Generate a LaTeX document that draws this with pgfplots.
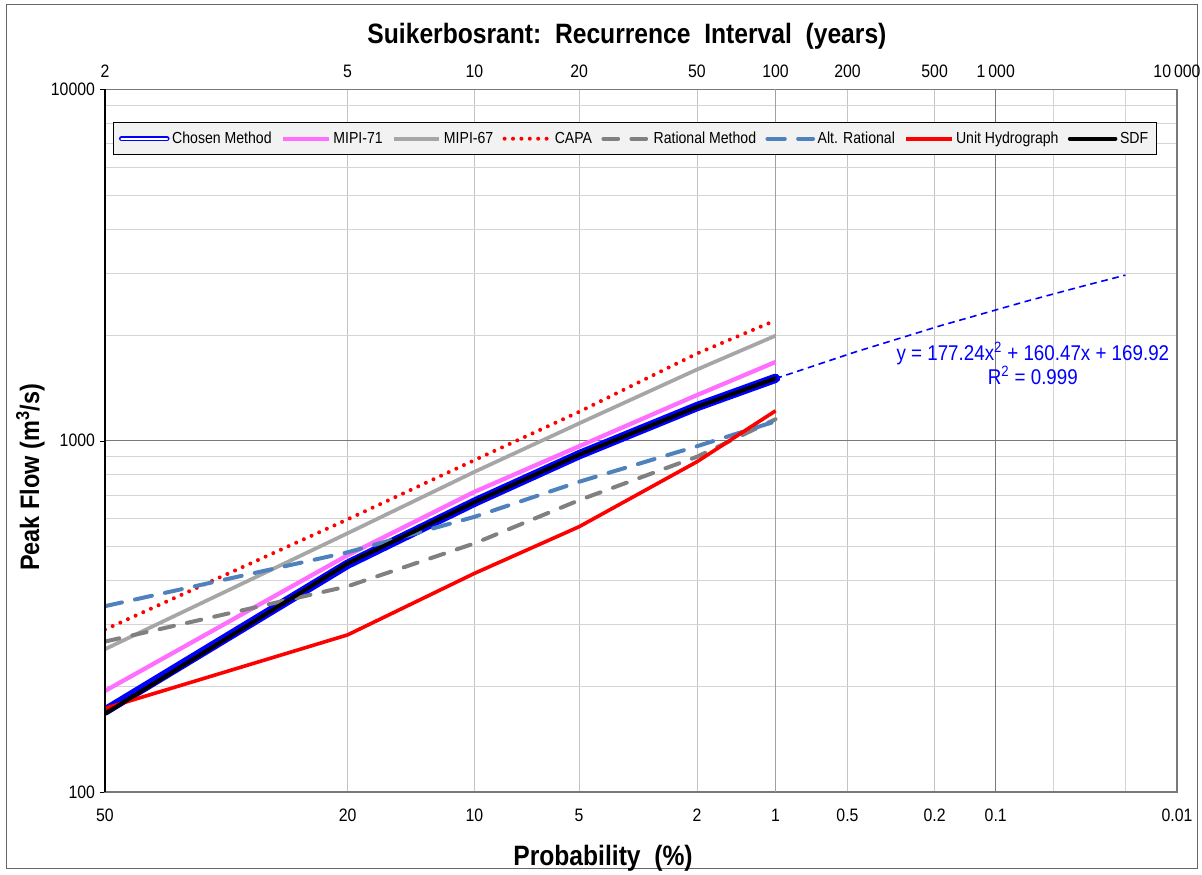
\documentclass[border=0pt]{standalone}
\usepackage{fontspec}
\setmainfont[FakeStretch=0.88]{Liberation Sans}
\usepackage{pgfplots}
\pgfplotsset{compat=1.18}
\usepackage{pgfplotstable}

\definecolor{chosenBlue}{RGB}{0,0,255}
\definecolor{mipiPink}{RGB}{255,110,255}
\definecolor{mipiGray}{RGB}{166,166,166}
\definecolor{capaRed}{RGB}{255,0,0}
\definecolor{ratGray}{RGB}{128,128,128}
\definecolor{altBlue}{RGB}{79,129,189}
\definecolor{gridLight}{RGB}{212,212,212}
\definecolor{gridV}{RGB}{196,196,196}
\definecolor{gridMid}{RGB}{160,160,160}
\definecolor{gridDark}{RGB}{120,120,120}
\definecolor{legendFill}{RGB}{242,242,242}

% x = standard normal quantile of the exceedance probability
% (50% -> 0, 20% -> 0.8416, 10% -> 1.2816, 5% -> 1.6449, 2% -> 2.0537, 1% -> 2.3263)
\pgfplotstableread{
z      chosen mipi71 mipi67 capa rational altrat unit sdf
0      170    194    255    290  268      338    173  167
0.8416 445    472    545    597  385      481    280  447
1.2816 668    715    815    880  510      607    419  668
1.6449 912    964    1120   1208 677      764    569  912
2.0537 1250   1348   1594   1770 900      964    871  1248
2.3263 1505   1675   1990   2200 1151     1135   1216 1505
}\flowdata

% trendline y = 177.24x^2 + 160.47x + 169.92, read along its dashed extension
\pgfplotstableread{
z      q
2.3263 1502
2.6    1785
2.9    2126
3.2    2498
3.4    2764
3.54   2959
}\trend

\begin{document}
\begin{tikzpicture}
  \useasboundingbox (-78.75pt,-61.5pt) rectangle (822.75pt,594pt);
  \draw[gray!80!black, line width=0.6pt] (-74pt,-57pt) rectangle (819pt,590.5pt);

  \begin{axis}[
    at={(0,0)}, anchor=south west,
    scale only axis, width=804pt, height=527pt,
    xmin=0, xmax=3.719,
    ymode=log, ymin=100, ymax=10000,
    xtick={0,0.8416,1.2816,1.6449,2.0537,2.3263,2.5758,2.8782,3.0902,3.7190},
    xticklabels={50,20,10,5,2,1,0.5,0.2,0.1,0.01},
    minor xtick={3.2905,3.5401},
    ytick={100,1000,10000},
    yticklabels={100,1000,10000},
    minor ytick={200,300,400,500,600,700,800,900,2000,3000,4000,5000,6000,7000,8000,9000},
    grid=both,
    major grid style={draw=gridV, line width=0.6pt},
    minor grid style={draw=gridLight, line width=0.6pt},
    axis line style={draw=gridDark, line width=0.8pt},
    xtick style={draw=none},
    ytick style={draw=black},
    ytick pos=left,
    tick align=outside,
    major tick length=4pt,
    minor tick length=0pt,
    tick label style={font=\fontsize{13.5}{15}\selectfont},
    xticklabel style={yshift=-5pt},
    /pgf/number format/assume math mode=true,
    legend columns=8,
    legend cell align=left,
    legend image code/.code={\draw[#1] (0cm,0cm) -- (1.2cm,0cm);},
    legend style={
      at={(0.0075,0.9535)}, anchor=north west,
      fill=legendFill, draw=black, line width=0.9pt,
      font=\fontsize{12}{14}\selectfont,
      inner xsep=4pt, inner ysep=5pt,
      /tikz/every even column/.append style={column sep=5pt}
    },
  ]
    % darker reference grid lines (1000 m3/s, 1 % and 0.1 %)
    \draw[gridDark, line width=0.8pt] (axis cs:0,1000) -- (axis cs:3.719,1000);
    \draw[gridMid, line width=0.8pt] (axis cs:2.3263,100) -- (axis cs:2.3263,10000);
    \draw[gridDark, line width=0.8pt] (axis cs:3.0902,100) -- (axis cs:3.0902,10000);

    \addplot[chosenBlue, line width=7pt, line cap=round, line join=round,
      legend image code/.code={\draw[chosenBlue, line width=1pt, double=white, double distance=1.8pt] (0cm,0cm) -- (1.2cm,0cm);}]
      table[x=z, y=chosen] {\flowdata};
    \addlegendentry{Chosen Method}
    \addplot[mipiPink, line width=3.2pt] table[x=z, y=mipi71] {\flowdata};
    \addlegendentry{MIPI-71}
    \addplot[mipiGray, line width=2.8pt] table[x=z, y=mipi67] {\flowdata};
    \addlegendentry{MIPI-67}
    \addplot[capaRed, line width=3pt, line cap=round, dash pattern=on 0pt off 6.3pt] table[x=z, y=capa] {\flowdata};
    \addlegendentry{CAPA}
    \addplot[ratGray, line width=3pt, line cap=round, dash pattern=on 11pt off 10pt] table[x=z, y=rational] {\flowdata};
    \addlegendentry{Rational Method}
    \addplot[altBlue, line width=3pt, line cap=round, dash pattern=on 13pt off 10pt] table[x=z, y=altrat] {\flowdata};
    \addlegendentry{Alt. Rational}
    \addplot[capaRed, line width=2.7pt] table[x=z, y=unit] {\flowdata};
    \addlegendentry{Unit Hydrograph}
    \addplot[black, line width=3pt, line cap=round] table[x=z, y=sdf] {\flowdata};
    \addlegendentry{SDF}
    \addplot[chosenBlue, line width=1.2pt, dash pattern=on 5pt off 3.5pt, forget plot] table[x=z, y=q] {\trend};

    \node[text=chosenBlue, font=\fontsize{16}{18}\selectfont, align=center]
      at (axis cs:3.219,1662) {y = 177.24x\textsuperscript{2} + 160.47x + 169.92\\R\textsuperscript{2} = 0.999};
  \end{axis}

  \begin{axis}[
    at={(0,0)}, anchor=south west,
    scale only axis, width=804pt, height=527pt,
    xmin=0, xmax=3.719, ymin=0, ymax=1,
    axis x line*=top, axis y line=none,
    axis line style={draw=none},
    xtick={0,0.8416,1.2816,1.6449,2.0537,2.3263,2.5758,2.8782,3.0902,3.7190},
    xticklabels={2,5,10,20,50,100,200,500,1\,000,10\,000},
    xtick style={draw=none},
    xticklabel style={font=\fontsize{13.5}{15}\selectfont, yshift=5pt},
  ]
  \end{axis}

  \draw[black, line width=0.9pt] (0,0) -- (0,527pt);

  \node[font=\bfseries\fontsize{21}{24}\selectfont] at (391.5pt,567pt)
    {Suikerbosrant:\ \ Recurrence\ \ Interval\ \ (years)};
  \node[font=\bfseries\fontsize{21}{24}\selectfont] at (373.5pt,-49.5pt)
    {Probability\ \ (\%)};
  \node[font=\bfseries\fontsize{20}{24}\selectfont, rotate=90] at (-56pt,236pt)
    {Peak Flow (m\textsuperscript{3}/s)};
\end{tikzpicture}
\end{document}
